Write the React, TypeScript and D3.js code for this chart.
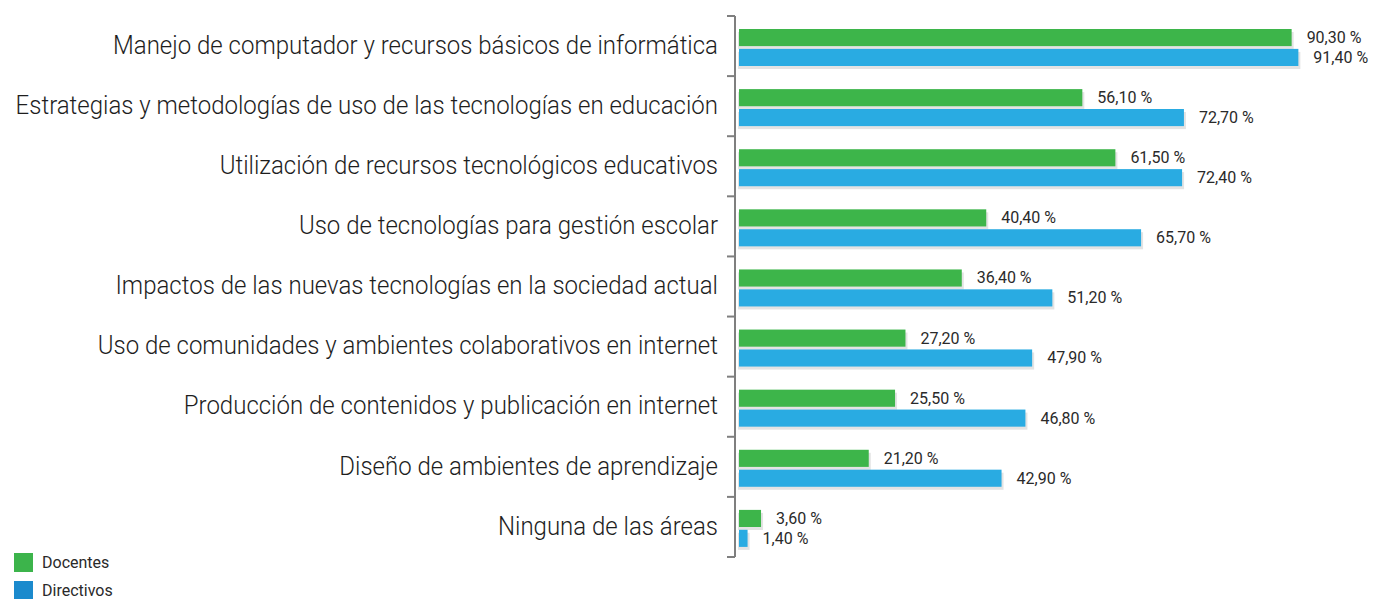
import React from 'react'
import * as d3 from 'd3'

const categories = [
  'Manejo de computador y recursos básicos de informática',
  'Estrategias y metodologías de uso de las tecnologías en educación',
  'Utilización de recursos tecnológicos educativos',
  'Uso de tecnologías para gestión escolar',
  'Impactos de las nuevas tecnologías en la sociedad actual',
  'Uso de comunidades y ambientes colaborativos en internet',
  'Producción de contenidos y publicación en internet',
  'Diseño de ambientes de aprendizaje',
  'Ninguna de las áreas',
]
const docentes = [90.3, 56.1, 61.5, 40.4, 36.4, 27.2, 25.5, 21.2, 3.6]
const directivos = [91.4, 72.7, 72.4, 65.7, 51.2, 47.9, 46.8, 42.9, 1.4]
const seriesNames = ['Docentes', 'Directivos']
const barColors = ['#3db54a', '#29abe2']
const legendColors = ['#3cb44b', '#1b8acd']

const W = 1376
const H = 599
const FONT = 'Roboto, sans-serif'

const fmt = (v: number) => d3.format('.2f')(v).replace('.', ',') + ' %'

export default function App() {
  const x = d3.scaleLinear().domain([0, 100]).range([739, 1351])
  const y = d3.scaleBand<string>().domain(categories).range([16, 557])
  const y1 = d3.scaleBand<string>().domain(seriesNames).range([13, 50]).paddingInner(0.14)
  const values = [docentes, directivos]
  const axisX = 735

  return (
    <svg width={W} height={H} style={{ position: 'absolute', left: 0, top: 0, background: '#fff' }}>
      {/* axis */}
      <line x1={axisX} x2={axisX} y1={y.range()[0]} y2={y.range()[1]} stroke="#7f7f7f" strokeWidth={2} />
      {[...categories.map(c => y(c)!), y.range()[1]].map((t, i) => (
        <line key={i} x1={axisX - 8} x2={axisX} y1={t} y2={t} stroke="#7f7f7f" strokeWidth={2} />
      ))}

      {categories.map((c, i) => (
        <g key={c} transform={`translate(0,${y(c)})`}>
          <g transform={`translate(718,${y.bandwidth() / 2 - 1}) scale(0.96,1)`}>
            <text
              textAnchor="end"
              dominantBaseline="central"
              fontFamily={FONT}
              fontWeight={300}
              fontSize={25}
              fill="#1e1e1e"
            >
              {c}
            </text>
          </g>
          {seriesNames.map((s, j) => {
            const v = values[j][i]
            const by = y1(s)!
            const bh = y1.bandwidth()
            return (
              <g key={s}>
                <rect x={x(0) - 1} y={by + 3} width={x(v) - x(0) + 3} height={bh} fill="#e3e3e3" />
                <rect x={x(0)} y={by} width={x(v) - x(0)} height={bh} fill={barColors[j]} />
                <text
                  x={x(v) + 15}
                  y={by + bh / 2}
                  dominantBaseline="central"
                  fontFamily={FONT}
                  fontSize={16}
                  fill="#2a2a2a"
                >
                  {fmt(v)}
                </text>
              </g>
            )
          })}
        </g>
      ))}

      {/* legend */}
      {seriesNames.map((s, j) => (
        <g key={s} transform={`translate(14,${553 + j * 28})`}>
          <rect width={19} height={19} fill={legendColors[j]} />
          <text x={28} y={9} dominantBaseline="central" fontFamily={FONT} fontSize={16} fill="#2a2a2a">
            {s}
          </text>
        </g>
      ))}
    </svg>
  )
}
